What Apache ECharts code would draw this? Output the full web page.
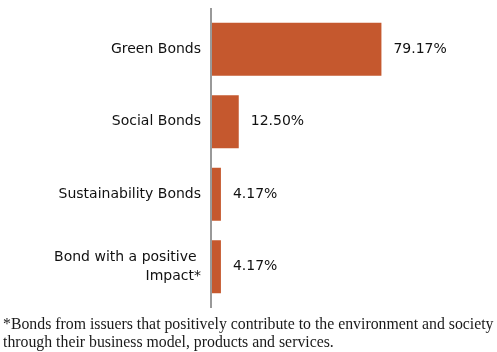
<!DOCTYPE html>
<html>
<head>
<meta charset="utf-8">
<script src="https://cdn.jsdelivr.net/npm/echarts@6/dist/echarts.min.js"></script>
<style>
html, body { margin: 0; padding: 0; background: #fff; }
#chart { width: 497px; height: 352px; }
</style>
</head>
<body>
<div id="chart"></div>
<script>
var categories = ['Green Bonds', 'Social Bonds', 'Sustainability Bonds', 'Bond with a positive \nImpact*'];
var values = [79.17, 12.50, 4.17, 4.17];
var footnoteLines = [
    '*Bonds from issuers that positively contribute to the environment and society',
    'through their business model, products and services.'
];

var myChart = echarts.init(document.getElementById('chart'));
var option = {
    animation: false,
    grid: {
        left: 212,
        right: 71,
        top: 13,
        height: 290
    },
    xAxis: {
        type: 'value',
        min: 0,
        max: 100,
        show: false
    },
    yAxis: {
        type: 'category',
        inverse: true,
        data: categories,
        axisLine: { show: false },
        axisTick: { show: false },
        axisLabel: {
            margin: 11,
            color: '#111',
            fontFamily: 'DejaVu Sans',
            fontSize: 14,
            lineHeight: 19,
            align: 'right'
        }
    },
    series: [{
        type: 'bar',
        data: values,
        barWidth: 53,
        itemStyle: { color: '#C5582E' },
        label: {
            show: true,
            position: 'right',
            distance: 12,
            color: '#111',
            fontFamily: 'DejaVu Sans',
            fontSize: 14,
            formatter: function (p) { return p.value.toFixed(2) + '%'; }
        }
    }],
    graphic: [{
        type: 'line',
        shape: { x1: 211, y1: 8, x2: 211, y2: 308 },
        style: { stroke: '#999', lineWidth: 2 }
    }, {
        type: 'text',
        left: 3,
        top: 316,
        style: {
            text: footnoteLines.join('\n'),
            fill: '#1a1a1a',
            font: '15.8px "Liberation Serif"',
            lineHeight: 18
        }
    }]
};
myChart.setOption(option);
</script>
</body>
</html>
